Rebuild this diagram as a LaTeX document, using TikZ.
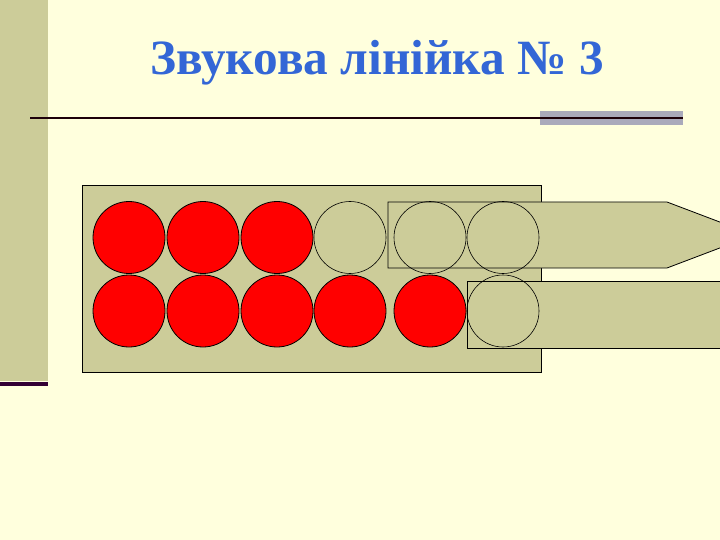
\documentclass[tikz,border=0pt]{standalone}
\usepackage{fontspec}
\setmainfont{Liberation Serif}
\definecolor{bg}{RGB}{255,255,221}
\definecolor{khaki}{RGB}{204,204,153}
\definecolor{titleblue}{RGB}{51,102,214}
\definecolor{barline}{RGB}{51,0,51}
\definecolor{graybar}{RGB}{170,170,187}
\definecolor{dotred}{RGB}{255,0,0}
\tikzset{
  x=1pt,y=-1pt,
  redhole/.style={circle,draw=black,fill=dotred,minimum size=72pt,inner sep=0pt,line width=0.8pt},
  emptyhole/.style={circle,draw=black,minimum size=72pt,inner sep=0pt,line width=0.6pt},
  board/.style={draw=black,fill=khaki,line width=0.8pt},
}
\begin{document}
\begin{tikzpicture}
\useasboundingbox (0,0) rectangle (720,540);
\fill[bg] (0,0) rectangle (720,540);
\clip (0,0) rectangle (720,540);
% left bar
\fill[khaki] (0,0) rectangle (48,381);
\fill[barline] (0,381.5) rectangle (48,385.5);
% title
\node[text=titleblue,font=\bfseries\fontsize{49.3}{58}\selectfont,anchor=base] (title) at (377,75) {Звукова лінійка № 3};
% rule
\fill[graybar] (540,111) rectangle (683,125.5);
\coordinate (rl) at (30,118);
\coordinate (rr) at (683,118);
\draw[line width=2pt,black!85!purple] (rl) -- (rr);
% main board
\draw[board] (82,185) rectangle (541,372);
\foreach \i/\x in {1/129,2/203,3/277} \node[redhole] (t\i) at (\x,237.5) {};
\node[emptyhole] (t4) at (350,237.5) {};
\foreach \i/\x in {1/129,2/203,3/277,4/350,5/430} \node[redhole] (b\i) at (\x,311) {};
% upper slider
\draw[board] (388,202) -- (667,202) -- (754,235) -- (667,268) -- (388,268) -- cycle;
\node[emptyhole] (t5) at (430,237.5) {};
\node[emptyhole] (t6) at (503,237.5) {};
% lower slider
\draw[board] (467,281) rectangle (760,348);
\node[emptyhole] (b6) at (503,311) {};
\end{tikzpicture}
\end{document}
